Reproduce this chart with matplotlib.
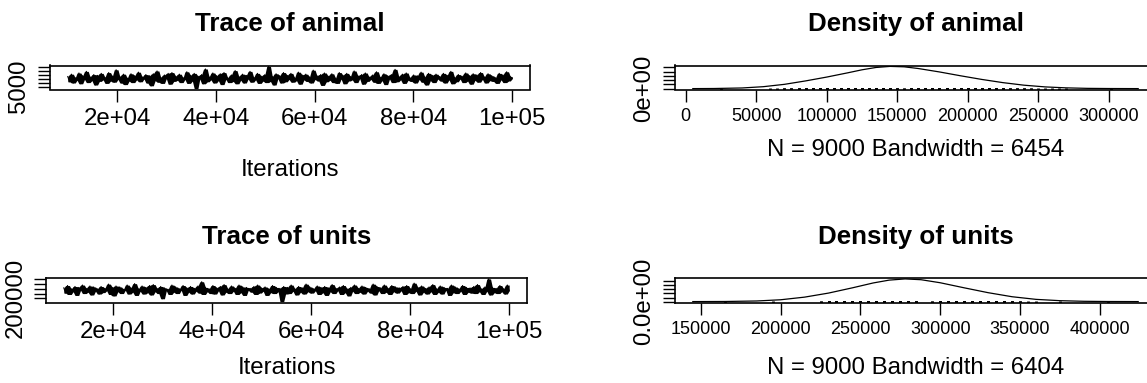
import numpy as np
import matplotlib.pyplot as plt

plt.rcParams['font.family'] = ['Liberation Sans', 'DejaVu Sans']

# MCMC output, 9000 kept draws from iteration 10000 to 100000
iter_start, iter_end = 10000, 100000

# trace values (thousands)
animal_trace = [
    175, 110, 205, 95, 160, 130, 220, 85, 185, 140, 240, 100, 170, 125, 200, 70, 190, 115, 215, 135,
    165, 90, 225, 120, 180, 105, 260, 140, 175, 95, 205, 75, 155, 120, 210, 100, 185, 135, 230, 110,
    170, 145, 200, 95, 185, 60, 210, 125, 245, 105, 165, 90, 195, 150, 215, 80, 225, 115, 180, 130,
    205, 100, 160, 140, 235, 90, 190, 120, 215, 25, 180, 145, 200, 85, 270, 110, 170, 135, 220, 95,
    185, 125, 210, 75, 225, 140, 160, 100, 195, 115, 250, 85, 175, 130, 205, 95, 190, 145, 240, 105,
    165, 135, 215, 90, 180, 120, 200, 100, 302, 115, 175, 70, 210, 150, 185, 95, 225, 110, 190, 140,
    215, 105, 160, 125, 230, 80, 195, 135, 205, 115, 170, 95, 255, 140, 185, 120, 200, 65, 220, 110,
    180, 130, 210, 100, 155, 90, 225, 145, 190, 85, 215, 120, 175, 135, 245, 100, 185, 150, 200, 80,
    220, 115, 170, 140, 195, 105, 235, 90, 165, 125, 210, 75, 185, 145, 200, 100, 265, 110, 175, 135,
    205, 90, 220, 130, 160, 115, 195, 95, 185, 140, 230, 105, 170, 70, 215, 125, 190, 100, 205, 145,
    175, 120, 215, 95, 190, 135, 240, 85, 165, 110, 200, 145, 180, 100, 220, 120, 185, 80, 210, 130,
    195, 105, 225, 140, 170, 95, 210, 125, 185, 115, 160, 90, 215, 135, 195, 100, 235, 120, 175, 150,
]
units_trace = [
    310, 255, 335, 240, 300, 270, 325, 230, 315, 285, 340, 250, 305, 265, 330, 235, 320, 275, 300, 245,
    325, 260, 305, 280, 350, 240, 315, 225, 330, 270, 320, 250, 295, 285, 340, 245, 310, 265, 355, 230,
    300, 275, 330, 245, 315, 260, 335, 235, 345, 270, 305, 250, 325, 195, 310, 280, 295, 240, 340, 265,
    320, 250, 300, 285, 335, 230, 310, 265, 325, 245, 305, 275, 330, 255, 375, 240, 315, 270, 300, 250,
    335, 245, 310, 280, 325, 235, 345, 265, 300, 250, 330, 275, 305, 240, 340, 260, 320, 230, 315, 285,
    305, 265, 325, 240, 340, 255, 310, 275, 320, 230, 300, 260, 335, 250, 315, 270, 305, 165, 325, 245,
    315, 250, 340, 275, 300, 235, 325, 265, 310, 245, 350, 270, 320, 255, 300, 280, 330, 240, 315, 260,
    325, 230, 310, 270, 345, 250, 305, 280, 320, 240, 335, 260, 300, 225, 315, 275, 340, 250, 305, 265,
    330, 245, 315, 275, 300, 255, 350, 235, 325, 280, 310, 250, 340, 265, 305, 240, 335, 270, 320, 255,
    310, 280, 325, 240, 335, 260, 300, 250, 360, 275, 315, 235, 330, 265, 305, 245, 320, 270, 345, 240,
    300, 265, 330, 245, 315, 285, 305, 230, 340, 260, 320, 250, 300, 275, 335, 240, 315, 265, 310, 255,
    325, 250, 345, 270, 300, 240, 320, 275, 405, 235, 315, 260, 305, 250, 335, 270, 300, 245, 340, 280,
]

# kernel density curves (x in thousands, y in 1e-6)
animal_dens_x = [5, 20, 40, 55, 70, 85, 100, 115, 125, 135, 145, 155, 165, 180, 195, 210, 225, 240,
                 255, 270, 285, 300, 321]
animal_dens_y = [0.0, 0.05, 0.3, 0.9, 2.0, 3.6, 5.4, 7.4, 8.8, 9.9, 10.4, 10.2, 9.4, 7.8, 6.0, 4.3,
                 2.8, 1.6, 0.8, 0.35, 0.12, 0.04, 0.0]
units_dens_x = [145, 165, 185, 200, 215, 230, 245, 258, 268, 278, 288, 300, 315, 330, 345, 360, 375,
                390, 405, 424]
units_dens_y = [0.0, 0.05, 0.3, 0.9, 2.2, 4.2, 6.8, 9.2, 10.6, 11.2, 10.8, 9.3, 6.8, 4.4, 2.4, 1.1,
                0.45, 0.15, 0.04, 0.0]

trace_ticks = [20000, 40000, 60000, 80000, 100000]
trace_labels = ['2e+04', '4e+04', '6e+04', '8e+04', '1e+05']
animal_yticks = [50000, 100000, 150000, 200000, 250000, 300000]
units_yticks = [200000, 250000, 300000, 350000, 400000]
dens_yticks = [0, 2e-6, 4e-6, 6e-6, 8e-6, 1e-5]
animal_xticks = [0, 50000, 100000, 150000, 200000, 250000, 300000]
units_xticks = [150000, 200000, 250000, 300000, 350000, 400000]

W, H = 1147, 383
fig = plt.figure(figsize=(W / 100, H / 100), dpi=100)


def box(x0, y0, x1, y1):
    ax = fig.add_axes([x0 / W, 1 - y1 / H, (x1 - x0) / W, (y1 - y0) / H])
    for s in ax.spines.values():
        s.set_linewidth(1.2)
    ax.tick_params(length=8.6, width=1.0, labelsize=17.3)
    return ax


def rlim(lo, hi):
    pad = 0.04 * (hi - lo)
    return lo - pad, hi + pad


def place(ax, y0, y1, title_y, xlab, xlab_y):
    h = y1 - y0
    ax.set_title(ax.get_title(), y=(y1 - title_y) / h, va='center', pad=0,
                 fontsize=18.7, fontweight='bold')
    ax.set_xlabel(xlab, fontsize=17.3)
    ax.xaxis.set_label_coords(0.5, (y1 - xlab_y) / h)
    ax.xaxis.label.set_va('center')


def trace(ax, vals, title, yticks, ylab):
    v = np.array(vals) * 1000.0
    it = np.linspace(iter_start, iter_end, len(v))
    # dense chain: shade the local span around each draw, then the path itself
    nb = np.vstack([np.r_[v[0], v[:-1]], v, np.r_[v[1:], v[-1]]])
    ax.fill_between(it, nb.min(axis=0), nb.max(axis=0), color='black', lw=0)
    ax.plot(it, v, color='black', lw=0.8)
    ax.set_xlim(*rlim(iter_start, iter_end))
    ax.set_ylim(*rlim(v.min(), v.max()))
    ax.set_xticks(trace_ticks, trace_labels)
    ax.set_yticks(yticks, [ylab] + [''] * (len(yticks) - 1), rotation=90, va='center')
    ax.tick_params(axis='x', pad=4.5)
    ax.tick_params(axis='y', pad=5.5)
    ax.set_title(title)


def dens(ax, dx, dy, rug, title, xticks, ylab):
    x = np.array(dx) * 1000.0
    y = np.array(dy) * 1e-6
    ax.plot(x, y, color='black', lw=0.9)
    ax.vlines(np.array(rug) * 1000.0, 0, 0.06, transform=ax.get_xaxis_transform(),
              color='black', lw=2.0)
    ax.set_xlim(*rlim(x.min(), x.max()))
    ax.set_ylim(*rlim(0, y.max()))
    ax.set_xticks(xticks, [str(t) for t in xticks])
    ax.set_yticks(dens_yticks, [ylab] + [''] * (len(dens_yticks) - 1), rotation=90, va='center')
    ax.tick_params(axis='x', labelsize=13, pad=5)
    ax.tick_params(axis='y', pad=5.5)
    ax.set_title(title)


ax1 = box(50, 65.5, 530, 89.5)
trace(ax1, animal_trace, 'Trace of animal', animal_yticks, '5000')
place(ax1, 65.5, 89.5, 24, 'Iterations', 170)

ax2 = box(675, 65.5, 1156, 89.5)
dens(ax2, animal_dens_x, animal_dens_y, animal_trace, 'Density of animal', animal_xticks, '0e+00')
place(ax2, 65.5, 89.5, 24, 'N = 9000 Bandwidth = 6454', 150)

ax3 = box(46, 278, 527, 302.5)
trace(ax3, units_trace, 'Trace of units', units_yticks, '200000')
place(ax3, 278, 302.5, 237, 'Iterations', 368)

ax4 = box(675, 278, 1156, 302.5)
dens(ax4, units_dens_x, units_dens_y, units_trace, 'Density of units', units_xticks, '0.0e+00')
place(ax4, 278, 302.5, 237, 'N = 9000 Bandwidth = 6404', 368)

fig.savefig('out.png', dpi=100)
